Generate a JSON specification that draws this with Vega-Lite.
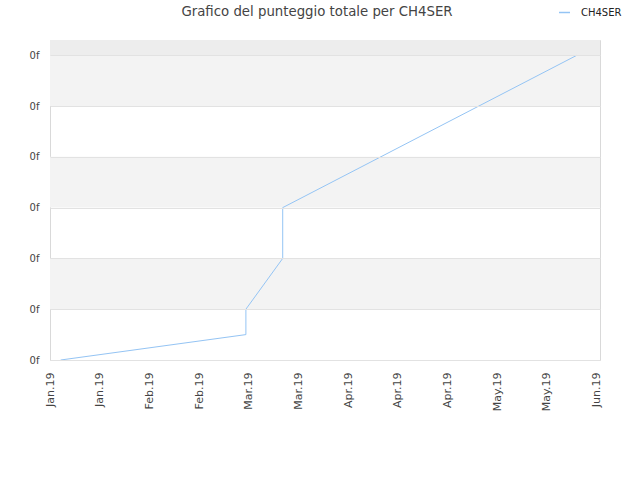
{
  "$schema": "https://vega.github.io/schema/vega-lite/v6.json",
  "width": 550,
  "height": 320,
  "autosize": {"type": "none"},
  "padding": {"left": 50, "top": 40, "right": 40, "bottom": 120},
  "background": "white",
  "title": {
    "text": "Grafico del punteggio totale per CH4SER",
    "font": "DejaVu Sans",
    "fontSize": 13.3,
    "fontWeight": "normal",
    "color": "#444444",
    "anchor": "middle",
    "frame": "group",
    "baseline": "alphabetic",
    "dx": -8,
    "offset": -23
  },
  "datasets": {
    "punteggio": [
      {"data": "2019-01-10T00:00:00Z", "punti": 0, "giocatore": "CH4SER"},
      {"data": "2019-03-03T05:00:00Z", "punti": 0.5, "giocatore": "CH4SER"},
      {"data": "2019-03-03T05:00:00Z", "punti": 1, "giocatore": "CH4SER"},
      {"data": "2019-03-13T14:00:00Z", "punti": 2, "giocatore": "CH4SER"},
      {"data": "2019-03-13T14:00:00Z", "punti": 3, "giocatore": "CH4SER"},
      {"data": "2019-06-04T12:00:00Z", "punti": 6, "giocatore": "CH4SER"}
    ],
    "fasce": [
      {"da": 1, "a": 2, "tono": "chiaro"},
      {"da": 3, "a": 4, "tono": "chiaro"},
      {"da": 5, "a": 6, "tono": "chiaro"},
      {"da": 6, "a": 6.3, "tono": "scuro"}
    ]
  },
  "layer": [
    {
      "data": {"name": "fasce"},
      "mark": {"type": "rect"},
      "encoding": {
        "y": {"field": "da", "type": "quantitative", "scale": {"domain": [0, 6.3], "nice": false}},
        "y2": {"field": "a"},
        "fill": {
          "field": "tono",
          "type": "nominal",
          "scale": {"domain": ["chiaro", "scuro"], "range": ["#f3f3f3", "#ededed"]},
          "legend": null
        }
      }
    },
    {
      "data": {"name": "punteggio"},
      "mark": {"type": "line", "strokeWidth": 1, "interpolate": "linear"},
      "encoding": {
        "x": {
          "field": "data",
          "type": "temporal",
          "scale": {
            "type": "utc",
            "domain": [
              {"year": 2019, "month": 1, "date": 7, "utc": true},
              {"year": 2019, "month": 6, "date": 11, "utc": true}
            ]
          },
          "axis": {
            "title": null,
            "format": "%b.%y",
            "values": [
              {"year": 2019, "month": 1, "date": 7, "utc": true},
              {"year": 2019, "month": 1, "date": 21, "utc": true},
              {"year": 2019, "month": 2, "date": 4, "utc": true},
              {"year": 2019, "month": 2, "date": 18, "utc": true},
              {"year": 2019, "month": 3, "date": 4, "utc": true},
              {"year": 2019, "month": 3, "date": 18, "utc": true},
              {"year": 2019, "month": 4, "date": 1, "utc": true},
              {"year": 2019, "month": 4, "date": 15, "utc": true},
              {"year": 2019, "month": 4, "date": 29, "utc": true},
              {"year": 2019, "month": 5, "date": 13, "utc": true},
              {"year": 2019, "month": 5, "date": 27, "utc": true},
              {"year": 2019, "month": 6, "date": 10, "utc": true}
            ],
            "labelAngle": -90,
            "labelAlign": "right",
            "labelBaseline": "middle",
            "labelPadding": 12,
            "labelFontSize": 11,
            "labelColor": "#444444",
            "labelOverlap": false,
            "labelFlush": false,
            "grid": false,
            "domain": false,
            "ticks": false
          }
        },
        "y": {
          "field": "punti",
          "type": "quantitative",
          "scale": {"domain": [0, 6.3], "nice": false},
          "axis": {
            "title": null,
            "values": [0, 1, 2, 3, 4, 5, 6],
            "labelExpr": "'0f'",
            "labelFontSize": 10,
            "labelColor": "#444444",
            "labelPadding": 11,
            "grid": true,
            "gridColor": "#e2e2e2",
            "domain": false,
            "ticks": false,
            "zindex": 1
          }
        },
        "color": {
          "field": "giocatore",
          "type": "nominal",
          "scale": {"range": ["#94c4f4"]},
          "legend": {
            "title": null,
            "orient": "none",
            "legendX": 508,
            "legendY": -34,
            "symbolType": "stroke",
            "symbolSize": 120,
            "symbolStrokeWidth": 1.5,
            "labelFontSize": 10,
            "labelColor": "#222222",
            "labelOffset": 10,
            "padding": 0
          }
        },
        "order": {"value": null}
      }
    }
  ],
  "config": {
    "font": "DejaVu Sans",
    "view": {"stroke": "#d9d9d9"}
  }
}
